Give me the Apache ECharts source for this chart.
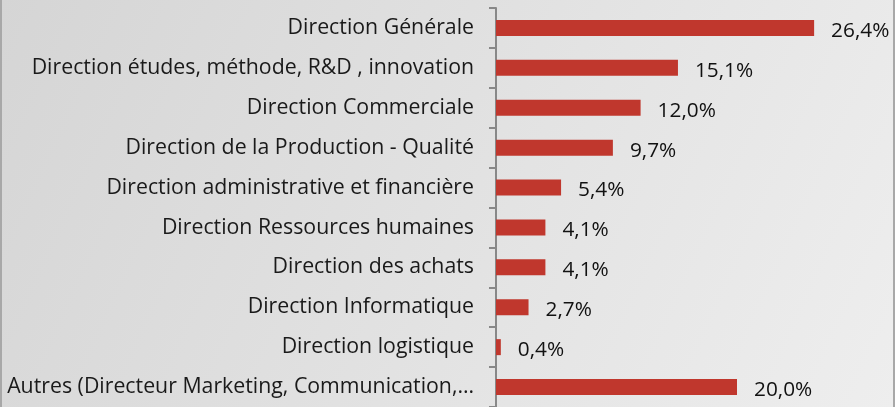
<!DOCTYPE html>
<html>
<head>
	<meta charset="utf-8">
	<title></title>
	<style type="text/css">
		html, body {
			margin: 0;
			padding: 0;
		}
		#main {
			width: 895px;
			height: 407px;
		}
	</style>
	<script src='https://cdn.jsdelivr.net/npm/echarts@6/dist/echarts.min.js'></script>
</head>
<body>

	<div id="main"></div>

	<script type="text/javascript">
		var categories = [
			'Direction Générale',
			'Direction études, méthode, R&D , innovation',
			'Direction Commerciale',
			'Direction de la Production - Qualité',
			'Direction administrative et financière',
			'Direction Ressources humaines',
			'Direction des achats',
			'Direction Informatique',
			'Direction logistique',
			'Autres (Directeur Marketing, Communication,…'
		];
		var values = [26.4, 15.1, 12.0, 9.7, 5.4, 4.1, 4.1, 2.7, 0.4, 20.0];

		var font = '"Open Sans", sans-serif';
		var chart = echarts.init(document.getElementById('main'));
		var option = {
			backgroundColor: new echarts.graphic.LinearGradient(0, 0, 1, 1, [
				{offset: 0, color: '#d5d5d5'},
				{offset: 1, color: '#eeeeee'}
			]),
			animation: false,
			grid: {
				left: 496,
				top: 8,
				width: 361.5,
				height: 405
			},
			xAxis: {
				type: 'value',
				min: 0,
				max: 30,
				show: false
			},
			yAxis: {
				type: 'category',
				data: categories,
				inverse: true,
				axisLine: {show: true, lineStyle: {color: '#888888', width: 2}},
				axisTick: {show: true, length: 7, lineStyle: {color: '#888888', width: 2}},
				axisLabel: {
					margin: 22,
					color: '#1a1a1a',
					fontSize: 21.3,
					fontFamily: font
				}
			},
			series: [{
				type: 'bar',
				data: values,
				barWidth: 16,
				itemStyle: {color: '#c0372d'},
				label: {
					show: true,
					position: 'right',
					distance: 17,
					offset: [0, 3],
					color: '#111111',
					fontSize: 20.8,
					fontFamily: font,
					formatter: function (p) {
						return p.value.toFixed(1).replace('.', ',') + '%';
					}
				}
			}],
			graphic: [
				{type: 'rect', left: 0, top: 0, shape: {width: 2, height: 407}, style: {fill: '#a8a8a8'}},
				{type: 'rect', right: 0, top: 0, shape: {width: 2, height: 407}, style: {fill: '#a8a8a8'}}
			]
		};

		chart.setOption(option);
	</script>
</body>
</html>
